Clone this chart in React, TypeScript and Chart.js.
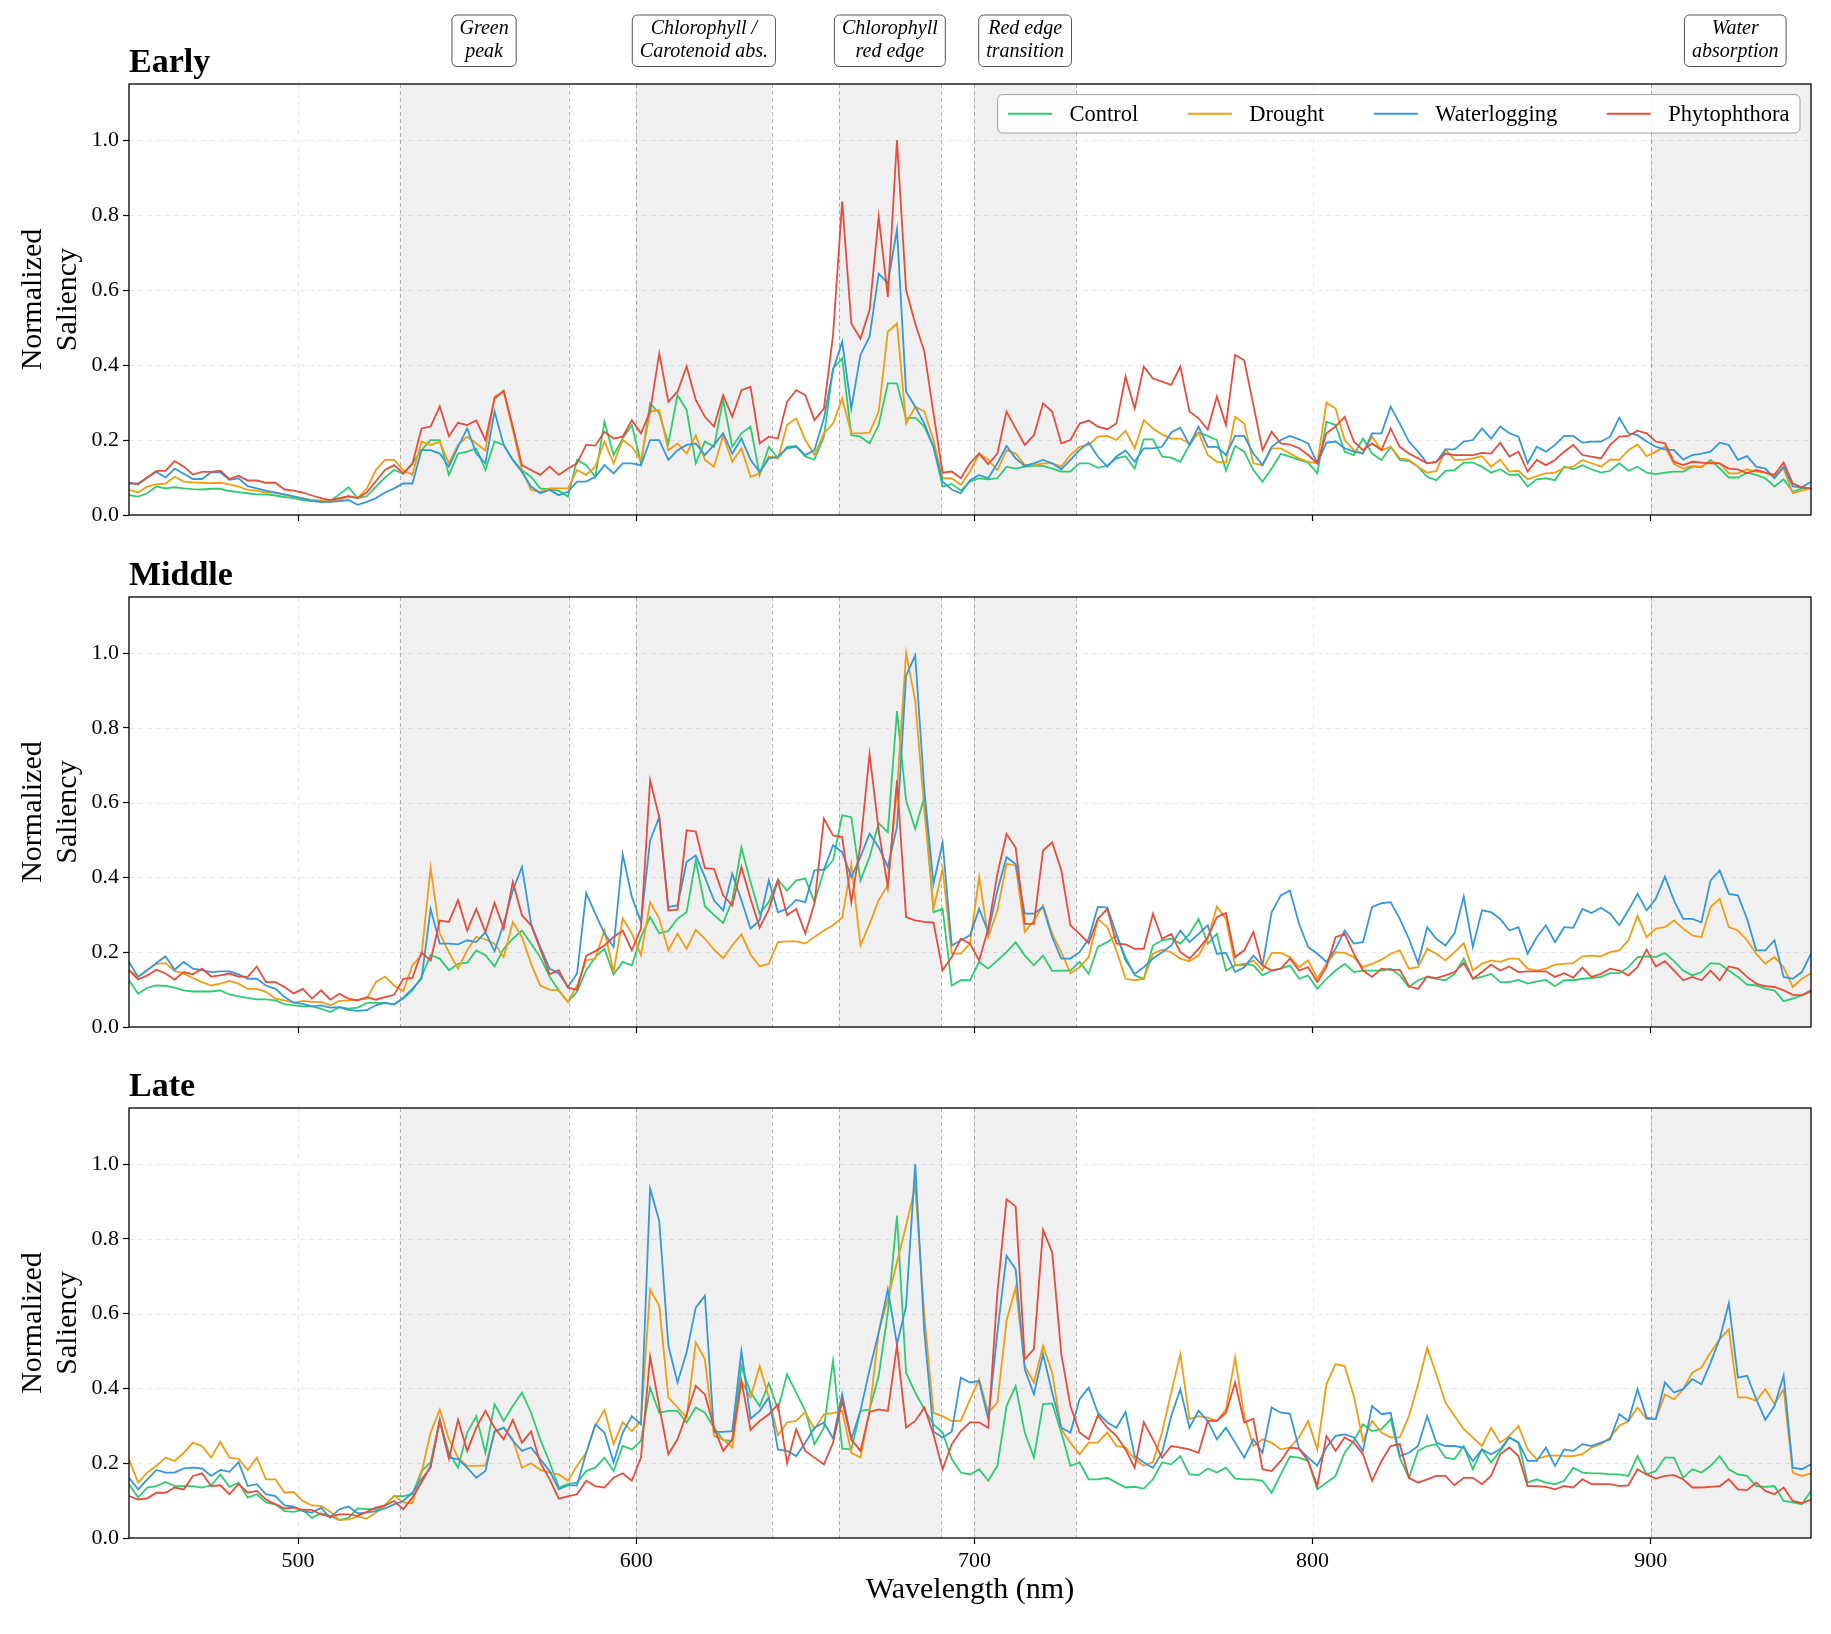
import React, { useEffect, useRef } from 'react';
import { Chart, registerables } from 'chart.js';

Chart.register(...registerables);

const FONT = "'Liberation Serif', 'Times New Roman', Times, serif";
Chart.defaults.font.family = FONT;
Chart.defaults.color = '#000';

const WAVELENGTHS = [
  450.0, 452.7, 455.4, 458.1, 460.8, 463.5, 466.2, 468.9, 471.6, 474.3,
  477.0, 479.7, 482.4, 485.1, 487.8, 490.5, 493.3, 496.0, 498.7, 501.4,
  504.1, 506.8, 509.5, 512.2, 514.9, 517.6, 520.3, 523.0, 525.7, 528.4,
  531.1, 533.8, 536.5, 539.2, 541.9, 544.6, 547.3, 550.0, 552.7, 555.4,
  558.1, 560.8, 563.5, 566.2, 568.9, 571.6, 574.4, 577.1, 579.8, 582.5,
  585.2, 587.9, 590.6, 593.3, 596.0, 598.7, 601.4, 604.1, 606.8, 609.5,
  612.2, 614.9, 617.6, 620.3, 623.0, 625.7, 628.4, 631.1, 633.8, 636.5,
  639.2, 641.9, 644.6, 647.3, 650.0, 652.7, 655.5, 658.2, 660.9, 663.6,
  666.3, 669.0, 671.7, 674.4, 677.1, 679.8, 682.5, 685.2, 687.9, 690.6,
  693.3, 696.0, 698.7, 701.4, 704.1, 706.8, 709.5, 712.2, 714.9, 717.6,
  720.3, 723.0, 725.7, 728.4, 731.1, 733.8, 736.5, 739.3, 742.0, 744.7,
  747.4, 750.1, 752.8, 755.5, 758.2, 760.9, 763.6, 766.3, 769.0, 771.7,
  774.4, 777.1, 779.8, 782.5, 785.2, 787.9, 790.6, 793.3, 796.0, 798.7,
  801.4, 804.1, 806.8, 809.5, 812.2, 814.9, 817.6, 820.4, 823.1, 825.8,
  828.5, 831.2, 833.9, 836.6, 839.3, 842.0, 844.7, 847.4, 850.1, 852.8,
  855.5, 858.2, 860.9, 863.6, 866.3, 869.0, 871.7, 874.4, 877.1, 879.8,
  882.5, 885.3, 888.0, 890.7, 893.4, 896.1, 898.8, 901.5, 904.2, 906.9,
  909.6, 912.3, 915.0, 917.7, 920.4, 923.1, 925.8, 928.5, 931.2, 933.9,
  936.6, 939.3, 942.0, 944.7, 947.4,
];

// ---------- Early ----------
const EARLY_CONTROL = [
  .053, .049, .058, .076, .071, .074, .071, .069, .068, .07,
  .07, .064, .061, .058, .055, .055, .052, .048, .045, .04,
  .037, .035, .037, .055, .074, .045, .05, .075, .1, .12,
  .11, .138, .173, .2, .2, .107, .164, .169, .178, .12,
  .196, .187, .147, .12, .102, .071, .068, .065, .049, .147,
  .133, .102, .249, .16, .204, .24, .138, .298, .271, .191,
  .32, .28, .138, .196, .182, .307, .182, .218, .236, .107,
  .182, .151, .182, .184, .156, .148, .209, .391, .418, .213,
  .209, .191, .24, .351, .351, .258, .26, .236, .182, .076,
  .083, .065, .089, .098, .095, .098, .129, .124, .129, .131,
  .131, .124, .116, .116, .138, .138, .126, .132, .151, .157,
  .124, .202, .202, .156, .153, .142, .187, .22, .211, .2,
  .118, .184, .169, .12, .089, .124, .163, .156, .147, .14,
  .111, .249, .24, .169, .16, .204, .164, .147, .182, .147,
  .144, .129, .102, .093, .118, .12, .14, .14, .129, .113,
  .122, .107, .108, .076, .095, .098, .093, .129, .122, .133,
  .122, .113, .118, .138, .118, .129, .113, .109, .113, .116,
  .116, .129, .127, .147, .124, .1, .1, .113, .107, .098,
  .076, .095, .062, .071, .071,
];
const EARLY_DROUGHT = [
  .067, .06, .076, .082, .084, .102, .089, .087, .086, .085,
  .086, .082, .076, .067, .065, .06, .06, .054, .05, .045,
  .04, .038, .036, .04, .05, .045, .07, .12, .147, .147,
  .12, .107, .196, .187, .196, .138, .187, .209, .191, .172,
  .316, .329, .227, .12, .067, .062, .071, .071, .071, .12,
  .107, .129, .196, .138, .2, .182, .147, .276, .28, .173,
  .191, .164, .213, .147, .129, .213, .142, .178, .102, .111,
  .156, .151, .24, .258, .2, .16, .218, .244, .311, .218,
  .218, .22, .276, .489, .511, .244, .289, .276, .2, .098,
  .098, .08, .116, .164, .147, .12, .173, .164, .133, .133,
  .138, .138, .129, .16, .182, .187, .209, .211, .2, .225,
  .178, .253, .231, .215, .204, .204, .191, .22, .16, .142,
  .14, .262, .244, .138, .133, .178, .178, .164, .151, .142,
  .138, .3, .284, .2, .173, .164, .209, .173, .182, .151,
  .147, .129, .113, .117, .175, .147, .147, .151, .157, .129,
  .148, .116, .118, .095, .104, .111, .113, .126, .129, .147,
  .138, .129, .148, .147, .173, .188, .157, .169, .182, .136,
  .124, .131, .129, .142, .138, .111, .111, .122, .116, .113,
  .102, .124, .058, .065, .071,
];
const EARLY_WATERLOGGING = [
  .084, .084, .1, .115, .1, .124, .11, .096, .096, .114,
  .114, .094, .098, .077, .071, .065, .06, .055, .05, .044,
  .038, .035, .035, .037, .04, .027, .035, .045, .06, .071,
  .084, .084, .173, .173, .164, .129, .182, .231, .164, .138,
  .276, .187, .147, .115, .076, .058, .067, .053, .062, .089,
  .089, .102, .133, .111, .138, .138, .133, .2, .2, .147,
  .173, .187, .191, .16, .187, .218, .164, .204, .147, .115,
  .151, .156, .178, .182, .16, .173, .258, .387, .462, .284,
  .427, .476, .644, .618, .762, .329, .289, .244, .182, .089,
  .068, .058, .093, .107, .098, .138, .184, .151, .131, .138,
  .147, .138, .122, .147, .173, .193, .156, .129, .156, .172,
  .142, .178, .178, .182, .22, .233, .187, .236, .182, .182,
  .16, .211, .211, .164, .133, .182, .2, .211, .202, .191,
  .138, .193, .196, .178, .169, .164, .218, .218, .289, .244,
  .196, .169, .138, .142, .175, .175, .196, .2, .231, .204,
  .236, .218, .209, .138, .182, .169, .187, .211, .211, .193,
  .196, .196, .209, .26, .218, .213, .196, .182, .175, .173,
  .148, .16, .164, .169, .193, .187, .147, .157, .129, .124,
  .098, .129, .076, .074, .089,
];
const EARLY_PHYTOPHTHORA = [
  .086, .082, .1, .118, .118, .144, .129, .108, .115, .115,
  .118, .096, .105, .092, .092, .086, .086, .068, .065, .06,
  .052, .045, .04, .045, .05, .045, .06, .09, .12, .133,
  .111, .136, .231, .236, .29, .21, .246, .24, .252, .2,
  .31, .332, .236, .133, .12, .107, .129, .107, .124, .138,
  .187, .185, .222, .204, .209, .253, .218, .276, .431, .302,
  .329, .396, .307, .262, .236, .32, .262, .333, .342, .191,
  .209, .204, .302, .333, .32, .253, .284, .48, .836, .511,
  .471, .547, .796, .582, 1.0, .6, .511, .436, .271, .113,
  .116, .098, .138, .164, .136, .164, .276, .231, .187, .213,
  .298, .276, .191, .2, .244, .252, .236, .229, .244, .369,
  .284, .396, .364, .356, .347, .396, .276, .258, .228, .316,
  .24, .427, .413, .293, .173, .222, .191, .188, .178, .16,
  .138, .218, .236, .262, .196, .173, .191, .173, .231, .182,
  .164, .151, .138, .142, .164, .16, .16, .16, .166, .164,
  .193, .156, .169, .116, .147, .133, .147, .169, .187, .16,
  .156, .151, .187, .209, .211, .225, .218, .196, .191, .142,
  .133, .142, .14, .138, .138, .124, .122, .111, .12, .113,
  .107, .14, .084, .074, .071,
];

// ---------- Middle ----------
const MIDDLE_CONTROL = [
  .125, .089, .105, .111, .11, .105, .098, .095, .095, .095,
  .098, .087, .082, .078, .074, .074, .071, .061, .058, .055,
  .055, .049, .04, .053, .049, .052, .064, .065, .064, .061,
  .076, .098, .134, .192, .183, .152, .169, .172, .205, .192,
  .162, .209, .236, .258, .223, .187, .134, .098, .067, .094,
  .152, .187, .209, .141, .174, .165, .241, .294, .25, .257,
  .29, .307, .446, .323, .299, .278, .339, .48, .388, .303,
  .334, .394, .365, .392, .397, .334, .419, .446, .566, .561,
  .392, .455, .545, .521, .845, .606, .53, .615, .307, .316,
  .111, .125, .125, .174, .156, .178, .2, .227, .191, .165,
  .191, .15, .151, .151, .174, .142, .214, .227, .245, .187,
  .138, .129, .218, .232, .236, .223, .249, .289, .223, .249,
  .151, .165, .169, .165, .138, .151, .156, .165, .129, .138,
  .102, .129, .151, .169, .147, .151, .151, .151, .156, .138,
  .107, .125, .134, .129, .125, .142, .183, .129, .134, .142,
  .12, .12, .126, .116, .122, .126, .109, .125, .125, .129,
  .131, .134, .144, .144, .16, .187, .189, .187, .198, .176,
  .151, .138, .147, .171, .169, .151, .134, .113, .111, .102,
  .098, .069, .076, .085, .094,
];
const MIDDLE_DROUGHT = [
  .152, .134, .153, .169, .171, .15, .143, .131, .12, .111,
  .116, .123, .116, .102, .102, .094, .076, .071, .065, .07,
  .067, .067, .058, .07, .071, .073, .076, .12, .135, .111,
  .096, .165, .192, .426, .25, .2, .156, .205, .241, .234,
  .223, .187, .281, .241, .169, .111, .1, .098, .067, .111,
  .178, .183, .258, .147, .29, .25, .192, .334, .29, .205,
  .25, .209, .26, .236, .207, .184, .218, .248, .194, .162,
  .169, .227, .229, .229, .223, .241, .258, .272, .292, .435,
  .218, .276, .339, .379, .633, 1.0, .873, .58, .316, .423,
  .196, .196, .223, .401, .24, .312, .436, .432, .254, .285,
  .325, .249, .2, .144, .16, .187, .289, .267, .205, .129,
  .125, .129, .196, .207, .2, .183, .176, .191, .236, .322,
  .289, .165, .165, .178, .151, .198, .198, .187, .16, .178,
  .129, .169, .2, .198, .187, .16, .169, .18, .196, .205,
  .156, .16, .209, .196, .178, .2, .224, .151, .169, .178,
  .174, .183, .183, .156, .151, .156, .167, .169, .171, .189,
  .191, .189, .2, .205, .232, .298, .24, .263, .267, .285,
  .263, .245, .24, .321, .343, .267, .258, .232, .196, .169,
  .187, .16, .107, .129, .144,
];
const MIDDLE_WATERLOGGING = [
  .174, .134, .152, .171, .189, .153, .174, .156, .152, .147,
  .149, .149, .141, .129, .129, .111, .102, .08, .065, .062,
  .055, .058, .052, .053, .046, .043, .045, .058, .065, .06,
  .078, .102, .129, .316, .223, .223, .221, .232, .227, .254,
  .203, .276, .365, .428, .276, .214, .156, .143, .107, .143,
  .358, .303, .25, .214, .462, .348, .281, .499, .561, .321,
  .325, .441, .459, .401, .339, .312, .41, .339, .263, .285,
  .392, .307, .316, .34, .334, .419, .421, .486, .468, .401,
  .455, .517, .481, .428, .535, .94, .994, .633, .383, .493,
  .218, .232, .245, .316, .254, .365, .454, .436, .303, .303,
  .321, .24, .183, .183, .2, .236, .321, .319, .249, .178,
  .142, .16, .183, .2, .218, .258, .227, .249, .272, .196,
  .198, .147, .16, .191, .165, .307, .352, .365, .276, .214,
  .196, .174, .209, .258, .223, .227, .321, .331, .334, .289,
  .236, .171, .267, .236, .218, .251, .349, .214, .312, .307,
  .289, .258, .267, .196, .24, .272, .227, .267, .265, .316,
  .305, .319, .303, .272, .312, .356, .312, .343, .402, .338,
  .289, .289, .28, .392, .419, .356, .352, .289, .205, .205,
  .232, .134, .129, .147, .196,
];
const MIDDLE_PHYTOPHTHORA = [
  .152, .127, .138, .153, .143, .127, .147, .141, .156, .135,
  .138, .143, .135, .134, .162, .12, .12, .107, .09, .102,
  .076, .098, .073, .089, .076, .071, .08, .073, .08, .086,
  .129, .131, .2, .178, .285, .281, .339, .258, .316, .254,
  .332, .263, .388, .299, .272, .209, .141, .152, .105, .1,
  .19, .203, .218, .241, .258, .205, .263, .66, .561, .312,
  .314, .526, .523, .425, .423, .352, .325, .428, .343, .266,
  .314, .392, .299, .316, .25, .33, .557, .512, .508, .334,
  .486, .731, .526, .374, .66, .294, .285, .281, .279, .152,
  .187, .236, .223, .178, .263, .41, .516, .48, .276, .276,
  .472, .494, .419, .272, .249, .224, .289, .316, .223, .221,
  .209, .209, .303, .236, .249, .2, .183, .209, .24, .294,
  .305, .187, .205, .254, .165, .151, .156, .183, .151, .16,
  .12, .16, .24, .249, .196, .151, .134, .156, .153, .153,
  .109, .102, .135, .131, .138, .147, .171, .129, .147, .167,
  .151, .162, .147, .149, .149, .149, .134, .144, .132, .159,
  .134, .142, .156, .151, .138, .16, .207, .162, .176, .151,
  .125, .134, .125, .151, .125, .162, .156, .134, .116, .109,
  .107, .098, .086, .085, .098,
];

// ---------- Late ----------
const LATE_CONTROL = [
  .144, .108, .135, .139, .15, .139, .139, .139, .135, .141,
  .17, .137, .148, .108, .117, .095, .09, .072, .07, .075,
  .054, .066, .059, .048, .054, .079, .077, .077, .087, .112,
  .112, .117, .179, .202, .313, .228, .188, .282, .326, .228,
  .358, .313, .353, .389, .335, .264, .202, .135, .144, .148,
  .179, .188, .215, .179, .246, .237, .26, .402, .335, .34,
  .34, .309, .349, .335, .295, .262, .26, .46, .389, .353,
  .414, .344, .438, .389, .34, .251, .295, .474, .239, .237,
  .34, .344, .434, .603, .862, .442, .389, .344, .304, .282,
  .211, .175, .17, .184, .153, .193, .353, .407, .282, .215,
  .358, .36, .282, .193, .202, .157, .157, .161, .148, .135,
  .137, .132, .157, .202, .197, .219, .17, .168, .186, .175,
  .188, .159, .157, .157, .153, .121, .17, .218, .215, .206,
  .13, .148, .166, .228, .26, .304, .286, .291, .318, .215,
  .161, .233, .246, .251, .215, .211, .246, .184, .237, .202,
  .233, .269, .255, .148, .157, .148, .144, .153, .188, .175,
  .173, .173, .17, .17, .166, .219, .17, .179, .215, .215,
  .161, .184, .175, .193, .219, .184, .17, .166, .139, .137,
  .139, .099, .095, .09, .126,
];
const LATE_DROUGHT = [
  .21, .148, .175, .193, .215, .206, .228, .255, .246, .215,
  .257, .215, .212, .182, .215, .157, .157, .121, .123, .099,
  .087, .086, .07, .048, .05, .057, .052, .068, .086, .114,
  .095, .093, .175, .282, .344, .264, .215, .193, .193, .194,
  .282, .295, .264, .188, .2, .182, .175, .17, .153, .193,
  .228, .3, .343, .251, .31, .286, .313, .665, .621, .376,
  .349, .322, .523, .478, .273, .264, .242, .42, .376, .46,
  .376, .275, .309, .313, .337, .291, .331, .334, .34, .228,
  .215, .34, .55, .639, .737, .835, .94, .594, .335, .326,
  .313, .313, .371, .424, .335, .362, .581, .67, .46, .416,
  .514, .442, .291, .255, .224, .255, .255, .282, .246, .242,
  .211, .193, .203, .282, .389, .492, .318, .326, .322, .313,
  .344, .483, .326, .246, .264, .255, .237, .242, .269, .313,
  .237, .411, .465, .46, .38, .26, .313, .282, .269, .269,
  .326, .411, .509, .438, .362, .326, .291, .269, .246, .295,
  .255, .273, .3, .237, .211, .219, .221, .219, .219, .224,
  .242, .251, .269, .3, .313, .349, .318, .318, .384, .371,
  .398, .442, .456, .496, .532, .558, .376, .376, .367, .398,
  .358, .398, .175, .166, .173,
];
const LATE_WATERLOGGING = [
  .161, .13, .157, .182, .175, .175, .186, .188, .186, .166,
  .182, .177, .203, .139, .144, .117, .112, .087, .084, .072,
  .068, .081, .054, .077, .084, .066, .068, .072, .079, .09,
  .099, .121, .157, .188, .318, .215, .211, .188, .161, .179,
  .286, .295, .26, .233, .242, .211, .179, .13, .141, .141,
  .228, .304, .282, .202, .282, .326, .304, .935, .848, .514,
  .416, .496, .616, .648, .284, .284, .286, .5, .319, .34,
  .376, .237, .233, .219, .255, .295, .309, .266, .384, .264,
  .34, .45, .55, .665, .518, .62, 1.0, .55, .284, .269,
  .284, .429, .416, .42, .318, .55, .755, .719, .451, .384,
  .492, .389, .295, .282, .371, .402, .335, .309, .295, .337,
  .219, .202, .188, .228, .326, .398, .295, .34, .313, .264,
  .295, .255, .215, .264, .228, .349, .335, .333, .239, .215,
  .194, .242, .273, .277, .269, .233, .353, .331, .335, .219,
  .228, .246, .326, .255, .246, .246, .242, .206, .237, .224,
  .237, .269, .255, .206, .206, .242, .193, .237, .233, .251,
  .246, .255, .264, .331, .313, .398, .322, .318, .416, .389,
  .398, .425, .411, .469, .532, .628, .429, .434, .371, .316,
  .353, .434, .188, .184, .197,
];
const LATE_PHYTOPHTHORA = [
  .112, .103, .106, .121, .121, .135, .13, .166, .173, .139,
  .141, .117, .144, .121, .126, .103, .09, .079, .081, .075,
  .075, .063, .057, .063, .063, .059, .07, .081, .087, .099,
  .077, .108, .148, .193, .313, .212, .316, .233, .295, .34,
  .295, .264, .316, .255, .285, .202, .157, .105, .111, .117,
  .153, .139, .135, .161, .173, .153, .215, .485, .353, .224,
  .264, .331, .407, .384, .295, .233, .264, .42, .289, .313,
  .331, .358, .2, .291, .233, .215, .197, .255, .367, .264,
  .233, .337, .344, .34, .514, .295, .313, .349, .277, .184,
  .251, .286, .309, .309, .295, .657, .906, .887, .478, .505,
  .824, .764, .492, .353, .282, .264, .328, .295, .273, .237,
  .188, .31, .264, .215, .246, .242, .237, .228, .313, .313,
  .335, .416, .309, .319, .184, .179, .206, .242, .239, .206,
  .139, .273, .233, .269, .255, .224, .153, .206, .246, .251,
  .161, .148, .157, .166, .166, .141, .161, .161, .144, .166,
  .224, .242, .219, .139, .139, .137, .13, .139, .135, .157,
  .144, .144, .144, .139, .141, .184, .17, .159, .166, .168,
  .157, .135, .135, .137, .139, .157, .13, .128, .148, .126,
  .117, .135, .099, .093, .103,
];

const SERIES_NAMES = ['Control', 'Drought', 'Waterlogging', 'Phytophthora'];
const SERIES_COLORS = ['#2ecc71', '#f39c12', '#3498db', '#e74c3c'];
const X_TICKS = [500, 600, 700, 800, 900];
const Y_TICKS = [0, 0.2, 0.4, 0.6, 0.8, 1.0];
const X_MIN = 450;
const X_MAX = 947.4;
const Y_MAX = 1.15;
const REGIONS = [[530, 580], [600, 640], [660, 690], [700, 730], [900, 950]];
const REGION_LABEL_X = [555, 620, 675, 715, 925];
const REGION_LABELS = [
  ['Green', 'peak'],
  ['Chlorophyll /', 'Carotenoid abs.'],
  ['Chlorophyll', 'red edge'],
  ['Red edge', 'transition'],
  ['Water', 'absorption'],
];

const PANELS = [
  { title: 'Early', series: [EARLY_CONTROL, EARLY_DROUGHT, EARLY_WATERLOGGING, EARLY_PHYTOPHTHORA],
    top: 0, height: 540, padTop: 84, xAxisHeight: 25, showX: false, legend: true, annotations: true },
  { title: 'Middle', series: [MIDDLE_CONTROL, MIDDLE_DROUGHT, MIDDLE_WATERLOGGING, MIDDLE_PHYTOPHTHORA],
    top: 540, height: 512, padTop: 57, xAxisHeight: 25, showX: false, legend: false, annotations: false },
  { title: 'Late', series: [LATE_CONTROL, LATE_DROUGHT, LATE_WATERLOGGING, LATE_PHYTOPHTHORA],
    top: 1052, height: 582, padTop: 56, xAxisHeight: 96, showX: true, legend: false, annotations: false },
];

const decorPlugin = {
  id: 'decor',
  beforeDatasetsDraw(chart: any) {
    const { ctx, chartArea: ca } = chart;
    const xs = chart.scales.x;
    const ys = chart.scales.y;
    ctx.save();
    ctx.beginPath();
    ctx.rect(ca.left, ca.top, ca.right - ca.left, ca.bottom - ca.top);
    ctx.clip();
    ctx.fillStyle = 'rgba(128,128,128,0.12)';
    for (const [a, b] of REGIONS) {
      const xa = xs.getPixelForValue(a);
      const xb = xs.getPixelForValue(b);
      ctx.fillRect(xa, ca.top, xb - xa, ca.bottom - ca.top);
    }
    ctx.lineWidth = 1;
    ctx.setLineDash([5, 4]);
    ctx.strokeStyle = 'rgba(0,0,0,0.09)';
    for (const v of X_TICKS) {
      const px = Math.round(xs.getPixelForValue(v)) + 0.5;
      ctx.beginPath(); ctx.moveTo(px, ca.top); ctx.lineTo(px, ca.bottom); ctx.stroke();
    }
    for (const v of Y_TICKS) {
      const py = Math.round(ys.getPixelForValue(v)) + 0.5;
      ctx.beginPath(); ctx.moveTo(ca.left, py); ctx.lineTo(ca.right, py); ctx.stroke();
    }
    ctx.setLineDash([4, 3]);
    ctx.strokeStyle = 'rgba(110,110,110,0.5)';
    for (const [a, b] of REGIONS) {
      for (const v of [a, b]) {
        const px = Math.round(xs.getPixelForValue(v)) + 0.5;
        ctx.beginPath(); ctx.moveTo(px, ca.top); ctx.lineTo(px, ca.bottom); ctx.stroke();
      }
    }
    ctx.restore();
  },
  afterDatasetsDraw(chart: any) {
    const { ctx, chartArea: ca } = chart;
    ctx.save();
    ctx.strokeStyle = '#000';
    ctx.lineWidth = 1.3;
    ctx.strokeRect(ca.left, ca.top, ca.right - ca.left, ca.bottom - ca.top);
    ctx.restore();
  },
  afterDraw(chart: any, _args: any, opts: any) {
    const { ctx, chartArea: ca } = chart;
    const xs = chart.scales.x;
    ctx.save();
    // panel title
    ctx.fillStyle = '#000';
    ctx.font = `bold 34px ${FONT}`;
    ctx.textAlign = 'left';
    ctx.textBaseline = 'alphabetic';
    ctx.fillText(opts.title, ca.left, ca.top - 12);

    if (opts.legend) {
      ctx.font = `22.5px ${FONT}`;
      const ds = chart.data.datasets;
      const handle = 44, gap = 17.5, colSp = 49.5, pad = 10.5;
      const widths = ds.map((d: any) => ctx.measureText(d.label).width);
      let total = pad * 2 + colSp * (ds.length - 1);
      widths.forEach((w: number) => { total += handle + gap + w; });
      const right = ca.right - 11;
      const left = right - total;
      const top = ca.top + 10.6;
      const h = 38.4;
      ctx.beginPath();
      ctx.roundRect(left, top, total, h, 5);
      ctx.fillStyle = 'rgba(255,255,255,0.85)';
      ctx.fill();
      ctx.strokeStyle = '#a0a0a0';
      ctx.lineWidth = 1;
      ctx.stroke();
      let x = left + pad;
      const cy = top + h / 2;
      ds.forEach((d: any, k: number) => {
        ctx.beginPath();
        ctx.strokeStyle = d.borderColor;
        ctx.lineWidth = 2;
        ctx.moveTo(x, cy); ctx.lineTo(x + handle, cy); ctx.stroke();
        ctx.fillStyle = '#000';
        ctx.textBaseline = 'middle';
        ctx.fillText(d.label, x + handle + gap, cy + 1);
        x += handle + gap + widths[k] + colSp;
      });
    }

    if (opts.annotations) {
      ctx.font = `italic 20px ${FONT}`;
      ctx.textAlign = 'center';
      ctx.textBaseline = 'middle';
      REGION_LABEL_X.forEach((xv, k) => {
        const lines = REGION_LABELS[k];
        const cx = xs.getPixelForValue(xv);
        const w = Math.max(...lines.map((l) => ctx.measureText(l).width)) + 15;
        const top = ca.top - 69;
        const bottom = ca.top - 17.5;
        ctx.beginPath();
        ctx.roundRect(cx - w / 2, top, w, bottom - top, 5);
        ctx.fillStyle = '#fff';
        ctx.fill();
        ctx.strokeStyle = '#555';
        ctx.lineWidth = 1;
        ctx.stroke();
        ctx.fillStyle = '#000';
        ctx.fillText(lines[0], cx, top + 13.5);
        ctx.fillText(lines[1], cx, top + 36.5);
      });
    }
    ctx.restore();
  },
};

function Panel({ cfg }: { cfg: any }) {
  const ref = useRef<HTMLCanvasElement>(null);
  useEffect(() => {
    const canvas = ref.current;
    if (!canvas) return;
    const tickGrid = {
      display: true,
      drawOnChartArea: false,
      drawTicks: true,
      tickLength: 6,
      tickColor: '#000',
      tickWidth: 1.2,
    };
    const chart = new Chart(canvas, {
      type: 'line',
      data: {
        datasets: SERIES_NAMES.map((name, k) => ({
          label: name,
          data: WAVELENGTHS.map((w, i) => ({ x: w, y: cfg.series[k][i] })),
          borderColor: SERIES_COLORS[k],
          backgroundColor: SERIES_COLORS[k],
          borderWidth: 1.8,
          pointRadius: 0,
          tension: 0,
          fill: false,
          order: 3 - k,
        })),
      },
      options: {
        responsive: false,
        animation: false,
        devicePixelRatio: 1,
        events: [],
        layout: { padding: { left: 0, right: 20, top: cfg.padTop, bottom: 0 } },
        plugins: {
          legend: { display: false },
          tooltip: { enabled: false },
          title: { display: false },
          decor: { title: cfg.title, legend: cfg.legend, annotations: cfg.annotations },
        } as any,
        scales: {
          x: {
            type: 'linear',
            min: X_MIN,
            max: X_MAX,
            afterBuildTicks: (s: any) => { s.ticks = X_TICKS.map((v) => ({ value: v })); },
            afterFit: (s: any) => { s.height = cfg.xAxisHeight; },
            grid: tickGrid,
            border: { display: false },
            ticks: {
              display: cfg.showX,
              font: { size: 22 },
              color: '#000',
              padding: 4,
              maxRotation: 0,
              autoSkip: false,
              callback: (v: any) => String(v),
            },
            title: {
              display: cfg.showX,
              text: 'Wavelength (nm)',
              font: { size: 30, lineHeight: 1.2 },
              color: '#000',
              padding: { top: 0, bottom: 26 },
            },
          },
          y: {
            min: 0,
            max: Y_MAX,
            afterBuildTicks: (s: any) => { s.ticks = Y_TICKS.map((v) => ({ value: v })); },
            afterFit: (s: any) => { s.width = 129; },
            grid: tickGrid,
            border: { display: false },
            ticks: {
              font: { size: 22 },
              color: '#000',
              padding: 4,
              callback: (v: any) => Number(v).toFixed(1),
            },
            title: {
              display: true,
              text: ['Normalized', 'Saliency'],
              font: { size: 30, lineHeight: 1.15 },
              color: '#000',
              padding: { top: 16, bottom: 0 },
            },
          },
        } as any,
      },
      plugins: [decorPlugin as any],
    });
    return () => chart.destroy();
  }, [cfg]);
  return (
    <div style={{ position: 'absolute', left: 0, top: cfg.top, width: 1831, height: cfg.height }}>
      <canvas
        ref={ref}
        width={1831}
        height={cfg.height}
        style={{ width: '1831px', height: `${cfg.height}px`, display: 'block' }}
      />
    </div>
  );
}

export default function App() {
  return (
    <div style={{ position: 'absolute', left: 0, top: 0, width: 1831, height: 1634, background: '#fff', overflow: 'hidden' }}>
      {PANELS.map((p) => (
        <Panel key={p.title} cfg={p} />
      ))}
    </div>
  );
}
